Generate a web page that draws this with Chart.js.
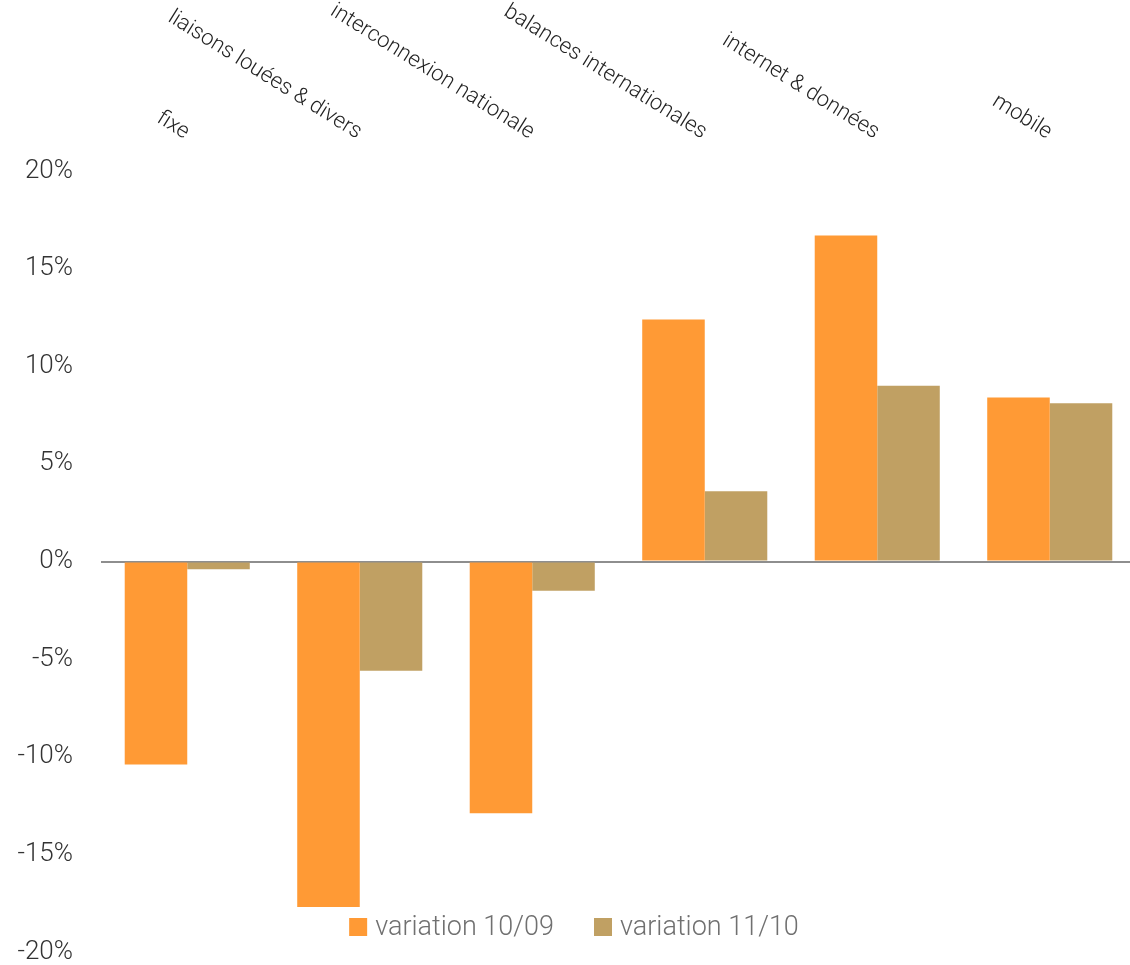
<!DOCTYPE html>
<html>
<head>
<meta charset="utf-8">
<script src="https://cdn.jsdelivr.net/npm/chart.js@4.4.1/dist/chart.umd.min.js"></script>
<style>
  html, body { margin: 0; padding: 0; background: #fff; overflow: hidden; }
  canvas { display: block; }
</style>
</head>
<body>
<canvas id="myChart" width="1140" height="965" style="width:1140px;height:965px"></canvas>
<script>
// categories and values (percent)
var categories = ['fixe', 'liaisons louées & divers', 'interconnexion nationale',
  'balances internationales', 'internet & données', 'mobile'];
var variation1009 = [-10.4, -17.7, -12.9, 12.4, 16.7, 8.4];
var variation1110 = [-0.4, -5.6, -1.5, 3.6, 9.0, 8.1];
var seriesNames = ['variation 10/09', 'variation 11/10'];
var seriesColors = ['#ff9a35', '#c0a063'];
var yMin = -20, yMax = 20, yStep = 5;

var FONT = 'Roboto, "Liberation Sans", sans-serif';

// top labels, slanted down to the right, ending over each category
// plus the legend, which sits inside the plot at the bottom
var slantLabels = {
  id: 'slantLabels',
  afterDraw: function(chart) {
    var ctx = chart.ctx;
    var xs = chart.scales.x;
    var top = chart.chartArea.top;
    ctx.save();
    ctx.font = '300 22px ' + FONT;
    ctx.fillStyle = '#222';
    ctx.textAlign = 'right';
    ctx.textBaseline = 'alphabetic';
    categories.forEach(function(c, i) {
      ctx.save();
      ctx.translate(xs.getPixelForValue(i) - 3, top - 32);
      ctx.rotate(32 * Math.PI / 180);
      ctx.fillText(c, 0, 0);
      ctx.restore();
    });
    ctx.restore();

    // legend
    ctx.save();
    ctx.font = '300 27px ' + FONT;
    ctx.textBaseline = 'middle';
    ctx.textAlign = 'left';
    var box = 18, gap = 8, spacing = 40;
    var widths = chart.data.datasets.map(function(ds) { return ctx.measureText(ds.label).width; });
    var total = 0;
    widths.forEach(function(w, i) { total += box + gap + w + (i ? spacing : 0); });
    var x = chart.width / 2 - total / 2 + 4;
    var cy = chart.chartArea.bottom - 25;
    chart.data.datasets.forEach(function(ds, i) {
      ctx.fillStyle = ds.backgroundColor;
      ctx.fillRect(x, cy - box / 2, box, box);
      ctx.fillStyle = '#707070';
      ctx.fillText(ds.label, x + box + gap, cy + 1);
      x += box + gap + widths[i] + spacing;
    });
    ctx.restore();
  }
};

var ctx = document.getElementById('myChart').getContext('2d');
var myChart = new Chart(ctx, {
  type: 'bar',
  data: {
    labels: categories,
    datasets: [
      { label: seriesNames[0], data: variation1009, backgroundColor: seriesColors[0] },
      { label: seriesNames[1], data: variation1110, backgroundColor: seriesColors[1] }
    ]
  },
  options: {
    responsive: false,
    animation: false,
    categoryPercentage: 0.725,
    barPercentage: 1.0,
    layout: { padding: { top: 171, bottom: 13, left: 0, right: 4 } },
    plugins: {
      legend: { display: false },
      tooltip: { enabled: false }
    },
    scales: {
      x: { display: false },
      y: {
        min: yMin,
        max: yMax,
        border: { display: false },
        grid: {
          drawTicks: true,
          tickLength: 28,
          tickColor: 'rgba(0,0,0,0)',
          lineWidth: 2,
          color: function(c) { return c.tick && c.tick.value === 0 ? '#8e8e8e' : 'rgba(0,0,0,0)'; }
        },
        ticks: {
          stepSize: yStep,
          padding: 0,
          color: '#333',
          font: { family: FONT, size: 26, weight: '300', lineHeight: 1 },
          callback: function(v) { return v + '%'; }
        },
        afterFit: function(scale) { scale.width = 101; }
      }
    }
  },
  plugins: [slantLabels]
});
</script>
</body>
</html>
